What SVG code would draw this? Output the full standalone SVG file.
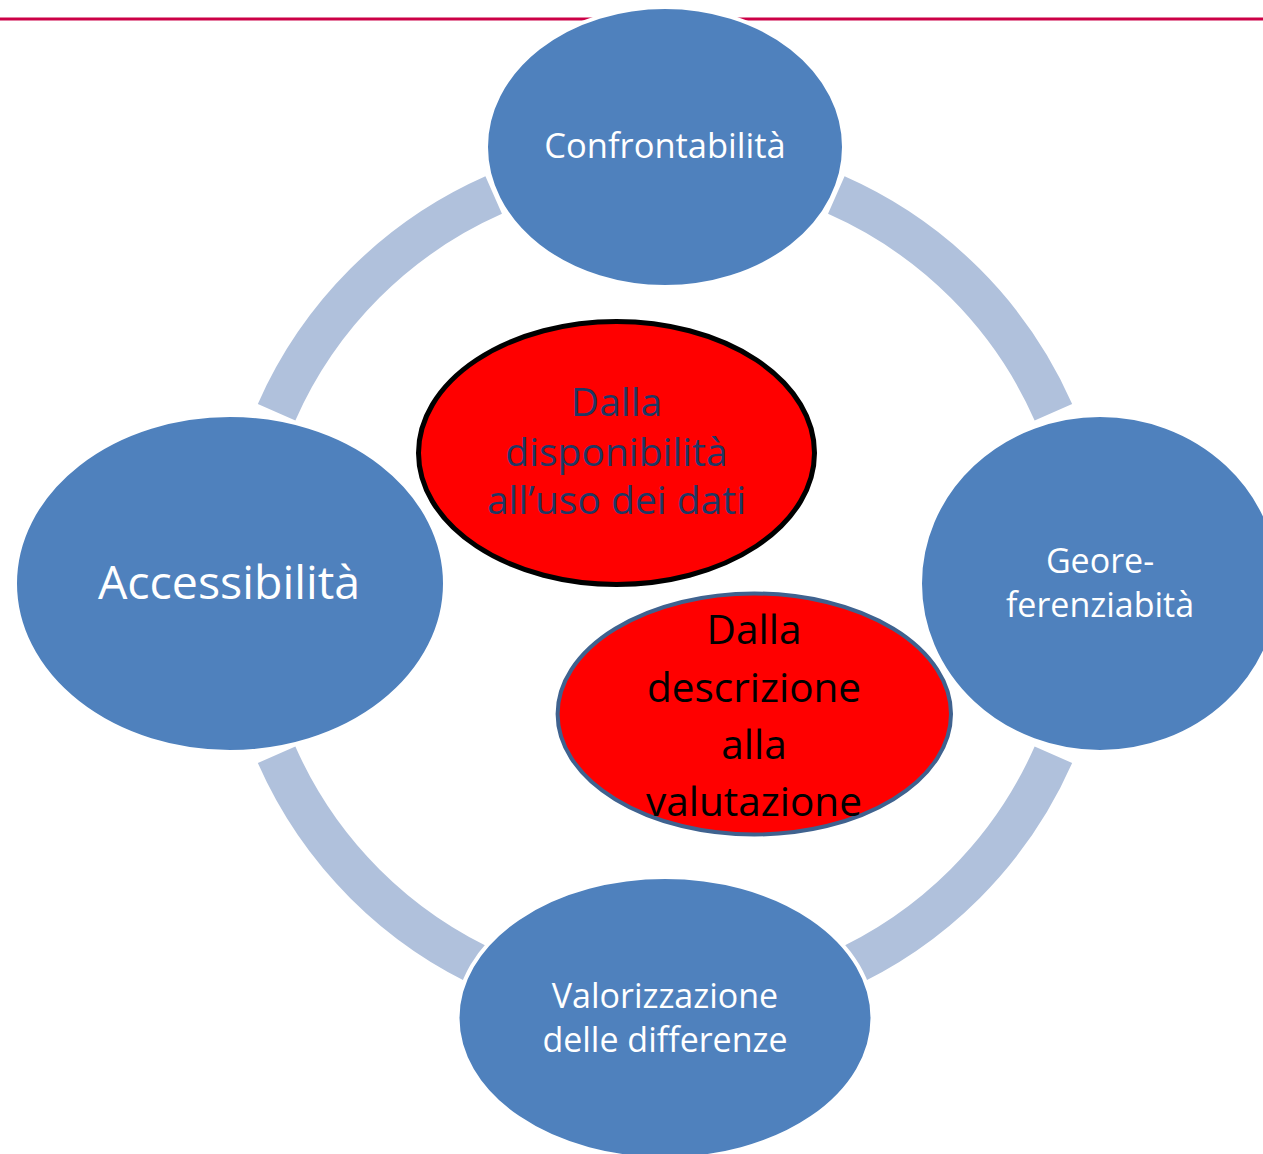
<svg xmlns="http://www.w3.org/2000/svg" width="1263" height="1154" viewBox="0 0 1263 1154">
<style>
.arc{fill:none;stroke:#B0C1DC;stroke-width:41;stroke-linecap:butt}
.node{fill:#4F81BD;stroke:#FFFFFF;stroke-width:4}
.t{font-family:"Open Sans","Noto Sans","DejaVu Sans",sans-serif;text-anchor:middle}
.w{fill:#FFFFFF}
</style>
<rect x="0" y="0" width="1263" height="1154" fill="#FFFFFF"/>
<line id="topline" x1="0" y1="19" x2="1263" y2="19" stroke="#CC0046" stroke-width="3"/>
<g id="connectors">
<path class="arc" d="M 276.6 412.2 A 424.5 424.5 0 0 1 493.7 195.1"/>
<path class="arc" d="M 836.3 195.1 A 424.5 424.5 0 0 1 1053.4 412.2"/>
<path class="arc" d="M 1053.4 754.8 A 424.5 424.5 0 0 1 836.3 971.9"/>
<path class="arc" d="M 493.7 971.9 A 424.5 424.5 0 0 1 276.6 754.8"/>
</g>
<g id="node-confrontabilita">
<ellipse class="node" cx="665" cy="147" rx="179" ry="140"/>
<text class="t w" x="665" y="158" font-size="34.5">Confrontabilità</text>
</g>
<g id="node-accessibilita">
<ellipse class="node" cx="230" cy="583.5" rx="215" ry="168.5"/>
<text class="t w" x="229" y="599" font-size="46.5">Accessibilità</text>
</g>
<g id="node-georeferenziabita">
<ellipse class="node" cx="1100" cy="583.5" rx="180" ry="168.5"/>
<text class="t w" x="1100" y="573" font-size="34">Geore-</text>
<text class="t w" x="1100" y="617" font-size="34">ferenziabità</text>
</g>
<g id="node-valorizzazione">
<ellipse class="node" cx="665" cy="1018" rx="207.5" ry="141"/>
<text class="t w" x="665" y="1008" font-size="34">Valorizzazione</text>
<text class="t w" x="665" y="1052" font-size="34">delle differenze</text>
</g>
<g id="node-disponibilita">
<ellipse cx="616.5" cy="453" rx="198" ry="131.5" fill="#FF0000" stroke="#000000" stroke-width="5"/>
<text class="t" x="616.5" y="416" font-size="39" fill="#1F3864">Dalla</text>
<text class="t" x="616.5" y="465.5" font-size="39" fill="#1F3864">disponibilità</text>
<text class="t" x="616.5" y="514" font-size="39" fill="#1F3864">all’uso dei dati</text>
</g>
<g id="node-descrizione">
<ellipse cx="754.3" cy="714" rx="196.7" ry="120.5" fill="#FF0000" stroke="#3F628F" stroke-width="4"/>
<text class="t" x="754" y="644" font-size="40.5" fill="#000000">Dalla</text>
<text class="t" x="754" y="701.5" font-size="40.5" fill="#000000">descrizione</text>
<text class="t" x="754" y="759" font-size="40.5" fill="#000000">alla</text>
<text class="t" x="754" y="816" font-size="40.5" fill="#000000">valutazione</text>
</g>
</svg>
